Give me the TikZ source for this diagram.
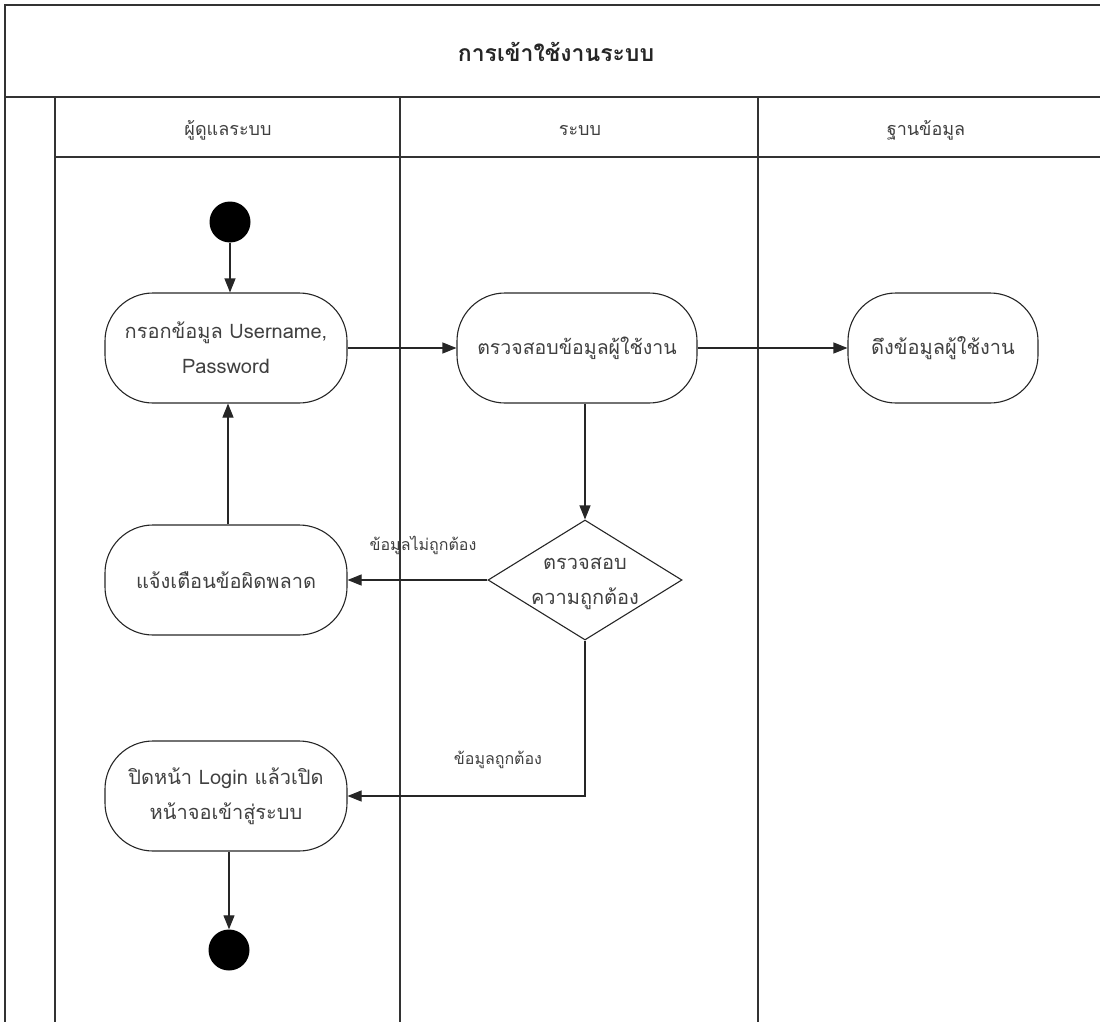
\documentclass[tikz,border=0pt]{standalone}
\usepackage{fontspec}
\newfontfamily\thai[Script=Thai]{Loma}
\usetikzlibrary{arrows.meta,shapes.geometric}
\begin{document}
\begin{tikzpicture}[x=1pt,y=-1pt,
  lane/.style={draw=black!80,line width=1.4pt},
  act/.style={draw=black!85,line width=1.1pt,rounded corners=48pt,minimum width=242pt,minimum height=110pt,align=center,font=\fontsize{20}{35}\selectfont\thai,text=black!75,inner sep=0pt},
  flow/.style={draw=black!85,line width=1.1pt,-{Triangle[length=14pt,width=11pt]}},
  lbl/.style={font=\fontsize{16}{18}\selectfont\thai,text=black!75,inner sep=0pt},
  hdr/.style={font=\fontsize{18}{20}\selectfont\thai,text=black!75,inner sep=0pt},
  dot/.style={circle,fill=black,minimum size=41pt,inner sep=0pt}]
\useasboundingbox (0,0) rectangle (1100,1022);
% frame and lanes
\draw[lane] (5,1022) -- (5,5) -- (1100,5);
\draw[lane] (5,97) -- (1100,97);
\draw[lane] (55,157) -- (1100,157);
\draw[lane] (55,97) -- (55,1022);
\draw[lane] (400,97) -- (400,1022);
\draw[lane] (758,97) -- (758,1022);
% titles
\node[font=\fontsize{23}{25}\selectfont\bfseries\thai,text=black!85,inner sep=0pt] (title) at (556,52) {การเข้าใช้งานระบบ};
\node[hdr] (h1) at (228,130) {ผู้ดูแลระบบ};
\node[hdr] (h2) at (580,130) {ระบบ};
\node[hdr] (h3) at (926,130) {ฐานข้อมูล};
% nodes
\node[dot] (start) at (230,222) {};
\node[act] (n1) at (226,348) {กรอกข้อมูล Username,\\Password};
\node[act,minimum width=240pt,font=\fontsize{19.5}{35}\selectfont\thai] (n2) at (577,348) {ตรวจสอบข้อมูลผู้ใช้งาน};
\node[act,minimum width=190pt] (n3) at (943,348) {ดึงข้อมูลผู้ใช้งาน};
\node[draw=black!85,line width=1.1pt,diamond,minimum width=194pt,minimum height=120pt,aspect=1.6,inner sep=0pt] (dia) at (585,580) {};
\node[font=\fontsize{20}{35}\selectfont\thai,text=black!75,align=center,inner sep=0pt] (diatext) at (585,584) {ตรวจสอบ\\ความถูกต้อง};
\node[act] (n4) at (226,580) {แจ้งเตือนข้อผิดพลาด};
\node[act] (n5) at (226,796) {ปิดหน้า Login แล้วเปิด\\หน้าจอเข้าสู่ระบบ};
\node[dot] (end) at (229,950) {};
% connectors
\draw[flow] (start) -- (n1.north -| start);
\draw[flow] (n1) -- (n2);
\draw[flow] (n2) -- (n3);
\draw[flow] (n2.south -| dia.north) -- (dia.north);
\draw[flow] (dia.west) -- (n4.east);
\draw[flow] (n4.north -| 228,0) -- (n1.south -| 228,0);
\draw[flow] (dia.south) |- (n5.east);
\draw[flow] (n5.south -| end) -- (end.north);
% labels
\node[lbl] (l1) at (423,545) {ข้อมูลไม่ถูกต้อง};
\node[lbl] (l2) at (498,760) {ข้อมูลถูกต้อง};
\end{tikzpicture}
\end{document}
